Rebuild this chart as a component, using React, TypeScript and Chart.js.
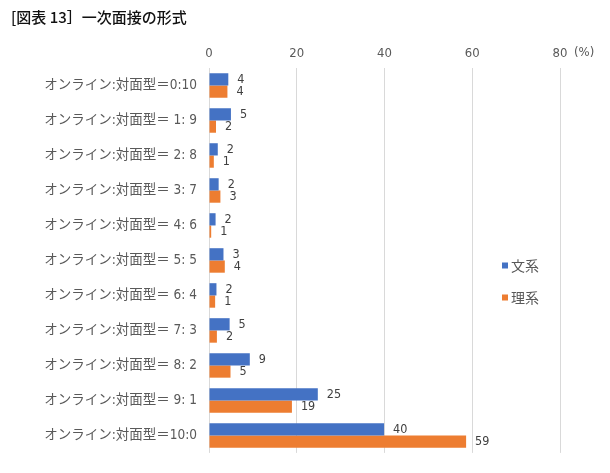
import React, { useEffect, useRef } from "react";
import { Chart, registerables } from "chart.js";

Chart.register(...registerables);

const TITLE = "[図表 13］一次面接の形式";
const categories = [
  "オンライン:対面型＝0:10",
  "オンライン:対面型＝ 1: 9",
  "オンライン:対面型＝ 2: 8",
  "オンライン:対面型＝ 3: 7",
  "オンライン:対面型＝ 4: 6",
  "オンライン:対面型＝ 5: 5",
  "オンライン:対面型＝ 6: 4",
  "オンライン:対面型＝ 7: 3",
  "オンライン:対面型＝ 8: 2",
  "オンライン:対面型＝ 9: 1",
  "オンライン:対面型＝10:0",
];
const seriesNames = ["文系", "理系"];
const bunkeiValues = [4.4, 5.0, 2.0, 2.2, 1.5, 3.3, 1.7, 4.7, 9.3, 24.8, 39.9];
const rikeiValues = [4.2, 1.6, 1.1, 2.6, 0.5, 3.6, 1.4, 1.8, 4.9, 18.9, 58.6];
const bunkeiLabels = [4, 5, 2, 2, 2, 3, 2, 5, 9, 25, 40];
const rikeiLabels = [4, 2, 1, 3, 1, 4, 1, 2, 5, 19, 59];
const xMin = 0;
const xMax = 80;
const xStep = 20;
const unitLabel = "(%)";

const BLUE = "#4472C4";
const ORANGE = "#ED7D31";
const TEXT = "#595959";
const GRID = "#D9D9D9";
const FONT = "'DejaVu Sans Condensed', 'Liberation Sans Narrow', 'Noto Sans CJK JP', sans-serif";
const CJK = "'Noto Sans CJK JP', sans-serif";

const overlayPlugin = {
  id: "overlay",
  afterDraw(chart: any) {
    const ctx = chart.ctx as CanvasRenderingContext2D;
    const area = chart.chartArea;
    ctx.save();
    // title
    ctx.fillStyle = "#111";
    ctx.font = `500 15px ${CJK}`;
    ctx.textAlign = "left";
    ctx.textBaseline = "middle";
    ctx.fillText(TITLE, 11, 17);

    // unit label next to last tick
    const xs = chart.scales.x;
    ctx.fillStyle = TEXT;
    ctx.font = `13px ${FONT}`;
    ctx.textAlign = "left";
    ctx.fillText(unitLabel, xs.getPixelForValue(xMax) + 14, 53);

    // data labels
    ctx.fillStyle = "#404040";
    ctx.font = `12.5px ${FONT}`;
    ctx.textBaseline = "middle";
    const labelSets = [bunkeiLabels, rikeiLabels];
    chart.data.datasets.forEach((_: any, di: number) => {
      const meta = chart.getDatasetMeta(di);
      meta.data.forEach((bar: any, i: number) => {
        ctx.fillText(String(labelSets[di][i]), bar.x + 9, bar.y);
      });
    });

    // legend
    const colors = [BLUE, ORANGE];
    const lx = area.right - 58;
    const ly = [265.5, 297.5];
    ctx.font = `14px ${CJK}`;
    seriesNames.forEach((name, i) => {
      ctx.fillStyle = colors[i];
      ctx.fillRect(lx, ly[i] - 3, 6, 6);
      ctx.fillStyle = TEXT;
      ctx.fillText(name, lx + 9, ly[i]);
    });
    ctx.restore();
  },
};

export default function App() {
  const ref = useRef<HTMLCanvasElement | null>(null);
  useEffect(() => {
    document.body.style.margin = "0";
    const canvas = ref.current;
    if (!canvas) return;
    const chart = new Chart(canvas, {
      type: "bar",
      data: {
        labels: categories,
        datasets: [
          { label: seriesNames[0], data: bunkeiValues, backgroundColor: BLUE },
          { label: seriesNames[1], data: rikeiValues, backgroundColor: ORANGE },
        ],
      },
      options: {
        indexAxis: "y",
        animation: false,
        responsive: false,
        maintainAspectRatio: false,
        layout: { padding: { left: 0, right: 50, top: 40, bottom: 13 } },
        datasets: {
          bar: { categoryPercentage: 0.7, barPercentage: 1.0 },
        },
        plugins: {
          legend: { display: false },
          title: { display: false },
          tooltip: { enabled: false },
        },
        scales: {
          x: {
            position: "top",
            min: xMin,
            max: xMax,
            ticks: {
              stepSize: xStep,
              color: TEXT,
              font: { family: FONT, size: 13 },
              padding: 7,
            },
            grid: { color: GRID, drawTicks: false },
            border: { display: false },
            afterFit: (s: any) => {
              s.height = 28;
            },
          },
          y: {
            ticks: {
              color: TEXT,
              font: { family: FONT, size: 13.5 },
              padding: 12,
              autoSkip: false,
            },
            grid: { display: false, drawTicks: false },
            border: { display: false },
            afterFit: (s: any) => {
              s.width = 209;
            },
          },
        },
      },
      plugins: [overlayPlugin],
    });
    return () => chart.destroy();
  }, []);
  return (
    <div style={{ width: 610, height: 473 }}>
      <canvas ref={ref} width={610} height={473} style={{ display: "block" }} />
    </div>
  );
}
